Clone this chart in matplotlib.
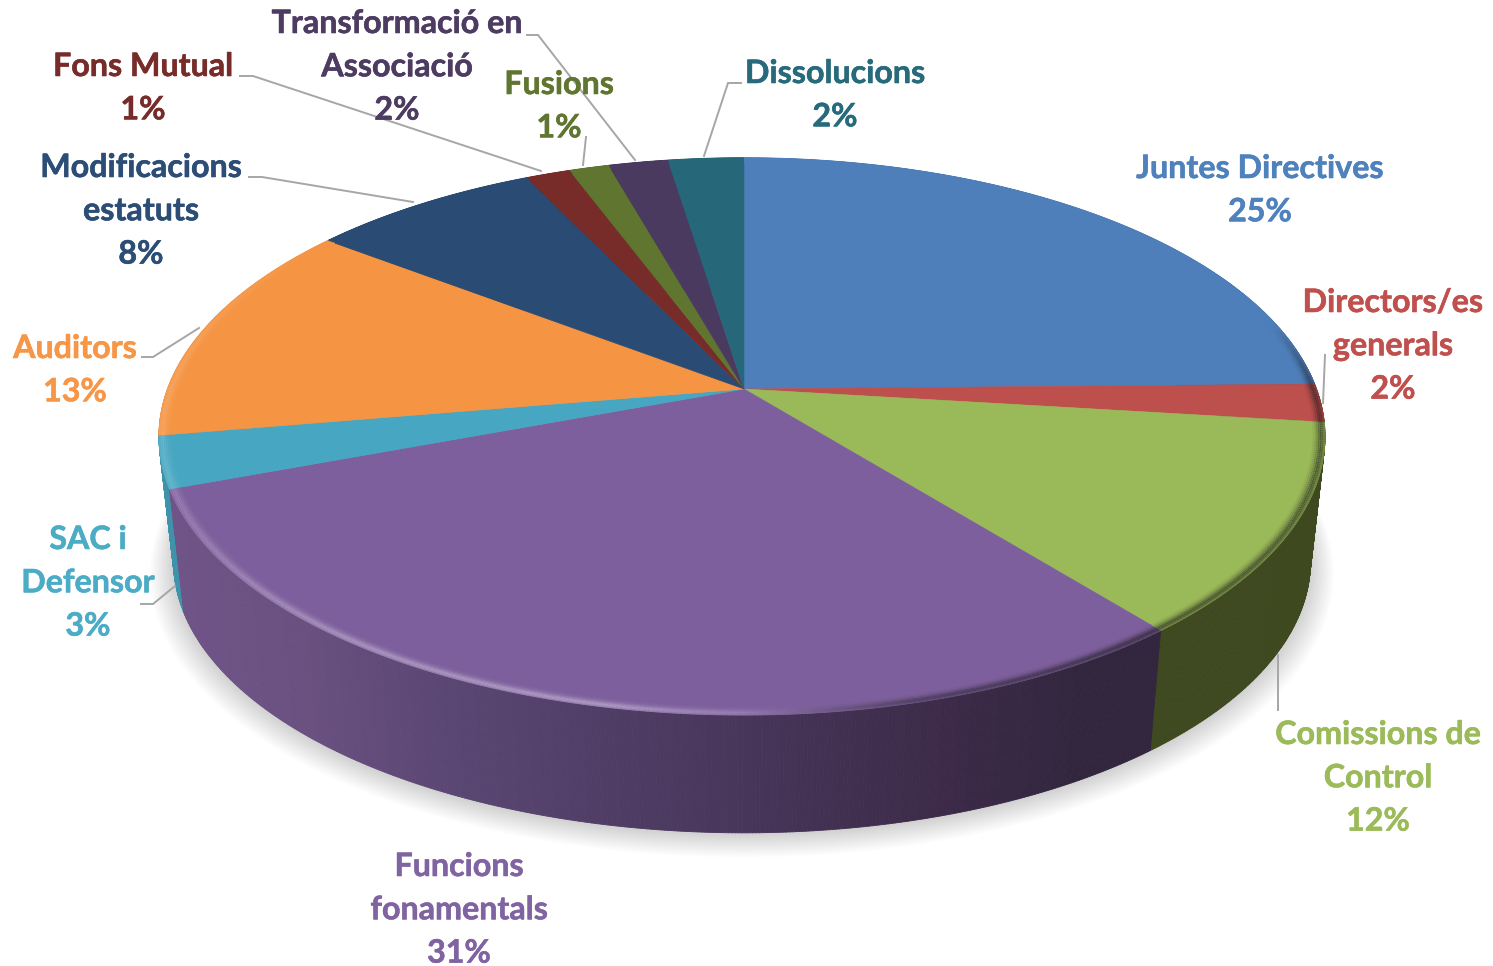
import numpy as np
import matplotlib
matplotlib.use('Agg')
import matplotlib.pyplot as plt
import matplotlib.patheffects as pe
from matplotlib.collections import PolyCollection, LineCollection
from matplotlib.colors import to_rgb

plt.rcParams['font.family'] = ['Lato', 'DejaVu Sans']

# Dades
categories = ['Juntes Directives', 'Directors/es\ngenerals', 'Comissions de\nControl',
              'Funcions\nfonamentals', 'SAC i\nDefensor', 'Auditors',
              'Modificacions\nestatuts', 'Fons Mutual', 'Transformació en\nAssociació',
              'Fusions', 'Dissolucions']
pct_labels = ['25%', '2%', '12%', '31%', '3%', '13%', '8%', '1%', '2%', '1%', '2%']
order = [0, 1, 2, 3, 4, 5, 6, 7, 9, 8, 10]  # ordre de les porcions al pastís
values = [24.7, 2.2, 12.2, 30.2, 3.0, 13.0, 7.5, 1.45, 1.94, 1.3, 2.46]

face_colors = ['#4e7fbb', '#bd4f4c', '#9ab958', '#7e5f9d', '#47a7c2', '#f59443',
               '#2a4b74', '#772c2a', '#4b3a60', '#5f7530', '#26677a']
text_colors = ['#4f81bd', '#c0504d', '#9bbb59', '#8064a2', '#4bacc6', '#f79646',
               '#2c4d75', '#772c2a', '#4d3b62', '#5f7530', '#276a7c']

# Posició de les etiquetes (centre x, línia de base de la primera línia)
label_pos = [(1260, 178), (1393, 312), (1378, 744), (459, 876), (88, 549), (75, 358),
             (141, 177), (143, 76), (397, 33), (559, 94), (835, 83)]
line_step = 43.3

# Línies guia
leaders = [[(1325, 355), (1323, 403)],
           [(1278, 655), (1278, 710)],
           [(141, 604), (153, 604), (175, 586)],
           [(142, 357), (153, 357), (199, 328)],
           [(249, 177), (262, 177), (413, 202)],
           [(240, 76), (253, 76), (541, 171)],
           [(527, 35), (538, 35), (635, 160)],
           [(586, 137), (583, 165)],
           [(741, 83), (728, 83), (704, 156)]]

# Geometria del pastís en perspectiva
CX, CY = 744, 389
A, B, K = 270.4, 572.5, 0.1705
DEPTH, SHRINK = 126, 0.975


def project(t, r=1.0, z=0.0):
    u = r * np.sin(t)
    v = r * np.cos(t)
    s = 1 / (1 + K * v)
    scale = 1 - (1 - SHRINK) * z
    bx = B * np.where(u < 0, 1.007, 1.0)
    return CX + bx * u * s * scale, CY + DEPTH * z - A * v * s * scale


def mix(c, other, f):
    return tuple(np.array(c) * (1 - f) + np.array(other) * f)


fig = plt.figure(figsize=(14.93, 9.66), dpi=100)
ax = fig.add_axes([0, 0, 1, 1])
ax.set_xlim(0, 1493)
ax.set_ylim(966, 0)
ax.axis('off')

# Ombra
tt = np.linspace(0, 2 * np.pi, 400)
for i in range(24):
    xs, ys = project(tt, 1.04 - i * 0.0018, 1.0)
    ax.fill(xs, ys + 9 - i * 0.35, color='#808080', alpha=0.014, lw=0, zorder=1)

# Costats
fracs = np.array([values[i] for i in order]) / sum(values)
edges = np.concatenate([[0], np.cumsum(fracs)]) * 2 * np.pi
purple_x = [170, 300, 450, 700, 950, 1080, 1160]
purple_c = np.array([(112, 84, 136), (105, 80, 128), (90, 70, 115), (74, 56, 94),
                     (60, 42, 72), (50, 38, 62), (50, 38, 62)]) / 255

quads, cols = [], []
for k, idx in enumerate(order):
    base = to_rgb(face_colors[idx])
    steps = max(4, int((edges[k + 1] - edges[k]) * 200))
    ts = np.linspace(edges[k], edges[k + 1], steps + 1)
    for a, b in zip(ts[:-1], ts[1:]):
        x0, y0 = project(a)
        x1, y1 = project(b)
        x2, y2 = project(b, 1, 1)
        x3, y3 = project(a, 1, 1)
        quads.append([(x0, y0), (x1, y1), (x2, y2), (x3, y3)])
        xm = (x0 + x1) / 2
        if idx == 3:
            col = tuple(np.interp(xm, purple_x, purple_c[:, c]) for c in range(3))
        elif idx == 2:
            col = (0.247, 0.286, 0.125)
        elif idx == 4:
            col = mix(base, (0, 0, 0), 0.12)
        elif idx == 5:
            col = mix(base, (0, 0, 0), 0.05)
        else:
            col = mix(base, (0, 0, 0), 0.5)
        cols.append(col)
# de darrere cap endavant
depth_order = np.argsort([np.mean([p[1] for p in q]) for q in quads])
quads = [quads[i] for i in depth_order]
cols = [cols[i] for i in depth_order]
ax.add_collection(PolyCollection(quads, facecolors=cols, edgecolors=cols, linewidths=0.6, zorder=2))

# Cara superior
for k, idx in enumerate(order):
    ts = np.linspace(edges[k], edges[k + 1], 200)
    xs, ys = project(ts)
    xs = np.concatenate([[CX], xs])
    ys = np.concatenate([[CY], ys])
    ax.fill(xs, ys, color=face_colors[idx], lw=0.4, zorder=3)

# Vora bisellada
levels = np.array([0.999, 0.996, 0.993, 0.990, 0.987, 0.984, 0.981])
weights = np.array([0.6, 0.9, 1.0, 0.8, 0.5, 0.28, 0.1])
for level, w in zip(levels, weights):
    segs, seg_cols = [], []
    for k, idx in enumerate(order):
        base = to_rgb(face_colors[idx])
        steps = max(4, int((edges[k + 1] - edges[k]) * 150))
        ts = np.linspace(edges[k], edges[k + 1], steps + 1)
        for a, b in zip(ts[:-1], ts[1:]):
            xa, ya = project(a, level)
            xb, yb = project(b, level)
            tm = (a + b) / 2
            um, vm = np.sin(tm), np.cos(tm)
            light = np.interp(um, [-1, -0.6, -0.2, 0.1, 0.3, 1], [0.16, 0.32, 0.36, 0.08, 0, 0])
            light *= np.interp(vm, [-1, 0.0, 0.6], [1, 1, 0])
            dark = np.interp(um, [0.0, 0.25, 0.6, 1], [0, 0.45, 0.6, 0.6]) * np.interp(vm, [-1, 0, 0.25], [1, 1, 0])
            col = mix(base, (1, 1, 1), light * w)
            col = mix(col, (0.1, 0.1, 0.1), dark * w)
            segs.append([(xa, ya), (xb, yb)])
            seg_cols.append(col)
    ax.add_collection(LineCollection(segs, colors=seg_cols, linewidths=1.3, zorder=4, capstyle='butt'))

# Línies guia
for pts in leaders:
    ax.plot(*zip(*pts), color='#a6a6a6', lw=1.4, zorder=5, solid_joinstyle='miter')

# Etiquetes
for i, cat in enumerate(categories):
    x, y = label_pos[i]
    lines = cat.split('\n') + [pct_labels[i]]
    for j, line in enumerate(lines):
        ax.text(x, y + j * line_step, line, ha='center', va='baseline', fontsize=23.2,
                fontweight='bold', color=text_colors[i], zorder=6,
                path_effects=[pe.withStroke(linewidth=0.4, foreground=text_colors[i])])

fig.savefig('out.png', dpi=100)
